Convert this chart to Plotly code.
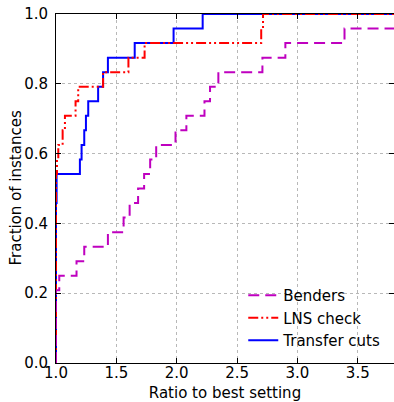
import plotly.graph_objects as go

N = 24.0

benders_x = [1.0, 1.0, 1.027, 1.17, 1.234, 1.43, 1.56, 1.61, 1.68, 1.73, 1.78, 1.83,
             1.99, 2.08, 2.23, 2.276, 2.345, 2.71, 2.90, 3.39, 3.8]
benders_n = [0, 5, 6, 7, 8, 9, 10, 11, 12, 13, 14, 15, 16, 17, 18, 19, 20, 21, 22, 23, 23]

lns_x = [1.0, 1.0, 1.008, 1.019, 1.055, 1.074, 1.162, 1.184, 1.39, 1.60, 1.734, 2.70, 2.715, 3.8]
lns_n = [0, 13, 14, 15, 16, 17, 18, 19, 20, 21, 22, 23, 24, 24]

transfer_x = [1.0, 1.0, 1.005, 1.198, 1.212, 1.234, 1.248, 1.267, 1.349, 1.39, 1.43,
              1.652, 1.974, 2.215, 3.8]
transfer_n = [0, 11, 13, 14, 15, 16, 17, 18, 19, 20, 21, 22, 23, 24, 24]

x_ticks = [1.0, 1.5, 2.0, 2.5, 3.0, 3.5]
y_ticks = [0.0, 0.2, 0.4, 0.6, 0.8, 1.0]

fig = go.Figure()
fig.add_trace(go.Scatter(x=transfer_x, y=[v / N for v in transfer_n], mode="lines",
                         line=dict(shape="hv", color="#0000ff", width=2),
                         name="Transfer cuts", legendrank=3))
fig.add_trace(go.Scatter(x=lns_x, y=[v / N for v in lns_n], mode="lines",
                         line=dict(shape="hv", color="#ff0000", width=2,
                                   dash="10px,3px,2px,3px,2px,3px"),
                         name="LNS check", legendrank=2))
fig.add_trace(go.Scatter(x=benders_x, y=[v / N for v in benders_n], mode="lines",
                         line=dict(shape="hv", color="#bf00bf", width=2, dash="11px,6px"),
                         name="Benders", legendrank=1))

axis_common = dict(
    showline=True, linecolor="black", linewidth=1, mirror="ticks",
    ticks="inside", ticklen=5, tickcolor="black", tickwidth=1,
    showgrid=True, gridcolor="#b8b8b8", griddash="dot", gridwidth=1,
    zeroline=False, tickformat=".1f", automargin=False,
    tickfont=dict(family="DejaVu Sans", size=15, color="black"),
)

fig.update_xaxes(range=[1.0, 3.8], tickvals=x_ticks, ticklabelstandoff=-4,
                 title=dict(text="Ratio to best setting", standoff=6,
                            font=dict(family="DejaVu Sans", size=15, color="black")),
                 **axis_common)
fig.update_yaxes(range=[0, 1.0], tickvals=y_ticks, ticklabelstandoff=4,
                 **axis_common)

fig.add_annotation(text="Fraction of instances", textangle=-90,
                   xref="paper", yref="paper", x=-(56 - 15) / 338, y=0.5,
                   xanchor="center", yanchor="middle", showarrow=False,
                   font=dict(family="DejaVu Sans", size=15, color="black"))

fig.update_layout(
    width=394, height=402,
    margin=dict(l=56, r=0, t=14, b=39),
    paper_bgcolor="white", plot_bgcolor="white",
    font=dict(family="DejaVu Sans", size=15, color="black"),
    showlegend=True,
    legend=dict(x=0.554, y=0.241, xanchor="left", yanchor="top",
                bgcolor="rgba(0,0,0,0)", borderwidth=0,
                font=dict(family="DejaVu Sans", size=15, color="black"),
                tracegroupgap=0),
)

# remove the page's default body margin so the figure fills the window exactly
post = (
    "document.body.style.margin='0px';"
    "document.body.style.overflow='hidden';"
    "var gd=document.getElementById('{plot_id}');"
    "Plotly.relayout(gd,{width:394,height:402});"
)

fig.write_html("out.html", post_script=post, config={"displayModeBar": False})
